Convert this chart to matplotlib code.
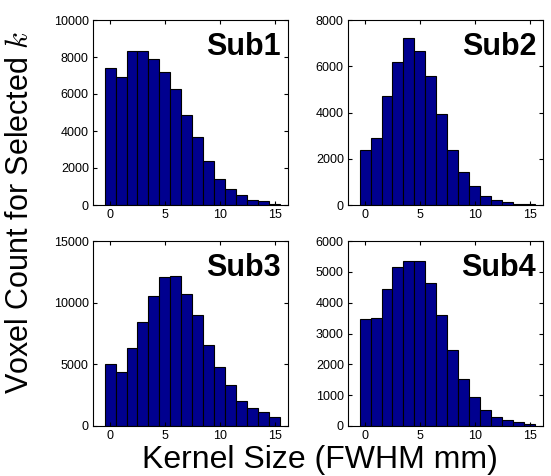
import matplotlib
matplotlib.use('Agg')
import matplotlib.pyplot as plt

plt.rcParams['font.family'] = ['Liberation Sans', 'DejaVu Sans']
plt.rcParams['mathtext.fontset'] = 'cm'

kernel = list(range(16))

sub1 = [7380, 6900, 8330, 8330, 7870, 7190, 6270, 4890, 3660, 2400, 1430, 880, 520, 250, 200, 70]
sub2 = [2390, 2890, 4720, 6170, 7210, 6680, 5600, 3940, 2370, 1420, 820, 370, 220, 120, 40, 30]
sub3 = [4990, 4360, 6340, 8460, 10540, 12110, 12200, 10730, 9000, 6560, 4770, 3310, 2060, 1440, 1110, 730]
sub4 = [3460, 3490, 4450, 5170, 5360, 5360, 4630, 3600, 2450, 1530, 950, 530, 280, 200, 120, 80]

names = ['Sub1', 'Sub2', 'Sub3', 'Sub4']
series = [sub1, sub2, sub3, sub4]
ylims = [10000, 8000, 15000, 6000]
ysteps = [2000, 2000, 5000, 1000]

fig = plt.figure(figsize=(5.51, 4.76), dpi=100)
lefts = [93 / 551, 348 / 551, 93 / 551, 348 / 551]
bottoms = [(476 - 205) / 476, (476 - 205) / 476, (476 - 426) / 476, (476 - 426) / 476]
w = 195 / 551
h = 185 / 476

for i in range(4):
    ax = fig.add_axes([lefts[i], bottoms[i], w, h])
    ax.bar(kernel, series[i], width=1.0, color='#00008F', edgecolor='black', linewidth=0.8)
    ax.set_xlim(-1.55, 16.2)
    ax.set_ylim(0, ylims[i])
    ax.set_xticks([0, 5, 10, 15])
    ax.set_yticks(range(0, ylims[i] + 1, ysteps[i]))
    ax.tick_params(direction='in', top=True, right=True, length=3, labelsize=9, pad=3)
    ax.text(0.965, 0.81, names[i], transform=ax.transAxes, ha='right', va='baseline',
            fontsize=22, fontweight='bold')

fig.text(0.036, 0.555, 'Voxel Count for Selected $k$', rotation=90, ha='center', va='center',
         fontsize=22)
fig.text(0.581, 0.034, 'Kernel Size (FWHM mm)', ha='center', va='center', fontsize=23)

fig.savefig('out.png', dpi=100)
